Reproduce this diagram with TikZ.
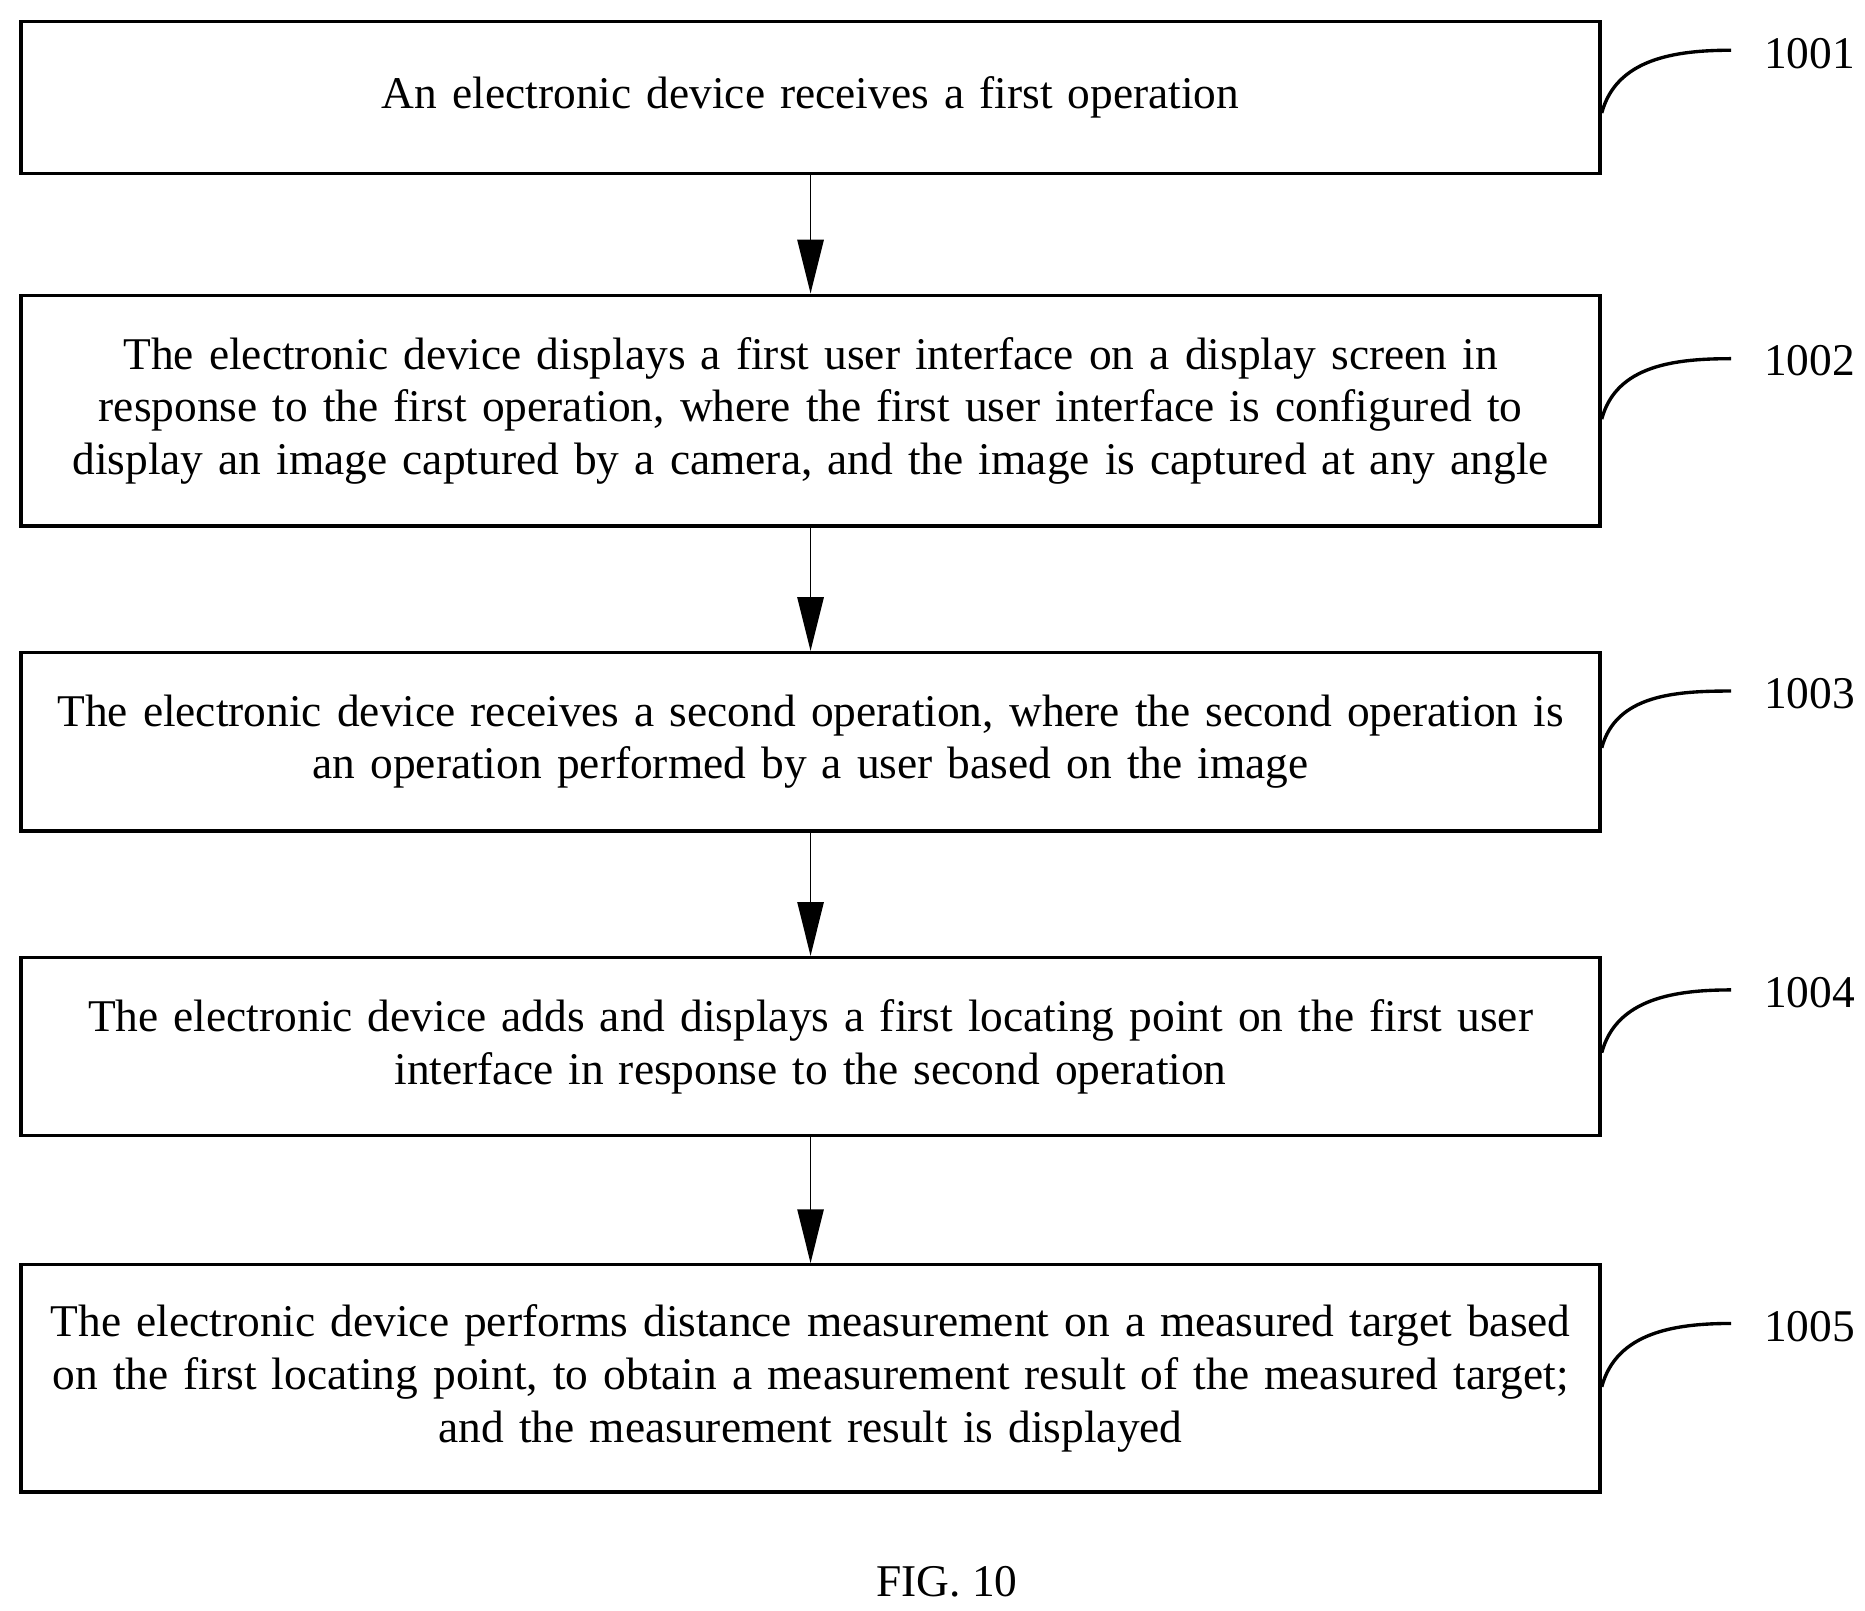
\documentclass[tikz,border=0pt]{standalone}
\usepackage{fontspec}
\setmainfont{Liberation Serif}
\usetikzlibrary{arrows.meta}

\begin{document}
\begin{tikzpicture}[x=0.01cm, y=-0.01cm, font=\fontsize{10.8}{12.5}\selectfont,
  box/.style = {draw, thick, minimum width=13.2cm, text width=13cm, align=center, inner sep=0pt},
  flow/.style = {-{Triangle[length=4.5mm,width=2.2mm]}},
  tag/.style = {anchor=west, inner sep=0pt}]
  \useasboundingbox (0,0) rectangle (1560,1347);

  \node[box, minimum height=1.27cm] (1) at (678,81.5) {An electronic device receives a first operation};
  \node[box, minimum height=1.93cm] (2) at (678,343.5) {The electronic device displays a first user interface on a display screen in\\ response to the first operation, where the first user interface is configured to\\ display an image captured by a camera, and the image is captured at any angle};
  \node[box, minimum height=1.49cm] (3) at (678,620.5) {The electronic device receives a second operation, where the second operation is\\ an operation performed by a user based on the image};
  \node[box, minimum height=1.49cm] (4) at (678,875.5) {The electronic device adds and displays a first locating point on the first user\\ interface in response to the second operation};
  \node[box, minimum height=1.90cm] (5) at (678,1153) {The electronic device performs distance measurement on a measured target based\\ on the first locating point, to obtain a measurement result of the measured target;\\ and the measurement result is displayed};

  \draw[flow] (1) -- (2);
  \draw[flow] (2) -- (3);
  \draw[flow] (3) -- (4);
  \draw[flow] (4) -- (5);

  % step numbers
  \node[tag] (n1) at (1475,45) {1001};
  \node[tag] (n2) at (1475,302) {1002};
  \node[tag] (n3) at (1475,580) {1003};
  \node[tag] (n4) at (1475,830) {1004};
  \node[tag] (n5) at (1475,1110) {1005};

  \coordinate (c1) at (1448,42);
  \coordinate (c2) at (1448,300);
  \coordinate (c3) at (1448,578);
  \coordinate (c4) at (1448,828);
  \coordinate (c5) at (1448,1107);
  \draw[thick] ([yshift=-0.13cm]1.east) to[out=75,in=180] (c1);
  \draw[thick] ([yshift=-0.07cm]2.east) to[out=75,in=180] (c2);
  \draw[thick] ([yshift=-0.05cm]3.east) to[out=75,in=180] (c3);
  \draw[thick] ([yshift=-0.05cm]4.east) to[out=75,in=180] (c4);
  \draw[thick] ([yshift=-0.07cm]5.east) to[out=75,in=180] (c5);

  \node (fig) at (792,1323) {FIG. 10};
\end{tikzpicture}
\end{document}
